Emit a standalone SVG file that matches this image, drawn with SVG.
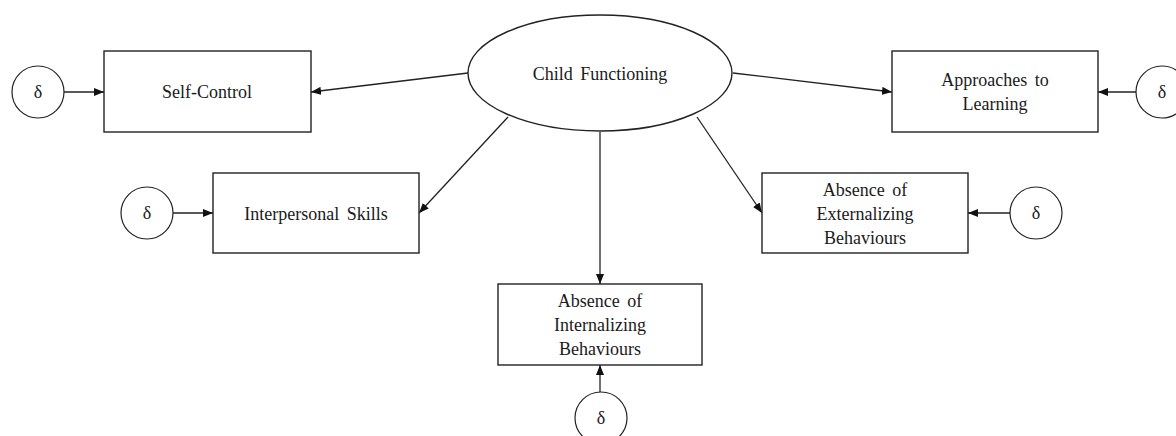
<svg xmlns="http://www.w3.org/2000/svg" width="1176" height="436" viewBox="0 0 1176 436">
  <style>
    .box { fill: #ffffff; stroke: #222222; stroke-width: 1.4; }
    .err { fill: #ffffff; stroke: #222222; stroke-width: 1.2; }
    .lbl { font-family: "Liberation Serif", "Times New Roman", serif; font-size: 18px; fill: #1a1a1a; text-anchor: middle; word-spacing: 3px; }
    .edge { stroke: #222222; stroke-width: 1.3; fill: none; marker-end: url(#arrow); }
  </style>
  <defs>
    <marker id="arrow" viewBox="0 0 10 8" refX="10" refY="4" markerWidth="10" markerHeight="8" markerUnits="userSpaceOnUse" orient="auto">
      <path d="M0,0 L10,4 L0,8 Z" fill="#111111"/>
    </marker>
  </defs>
  <rect width="1176" height="436" fill="#ffffff"/>

  <!-- connectors -->
  <g id="connectors">
    <line class="edge" x1="468" y1="73" x2="311" y2="92"/>
    <line class="edge" x1="733" y1="73" x2="892" y2="92"/>
    <line class="edge" x1="508" y1="117" x2="419" y2="213"/>
    <line class="edge" x1="697" y1="117" x2="762" y2="213"/>
    <line class="edge" x1="600" y1="132" x2="600" y2="284"/>
    <line class="edge" x1="64" y1="92" x2="104" y2="92"/>
    <line class="edge" x1="1136" y1="92" x2="1098" y2="92"/>
    <line class="edge" x1="173" y1="213" x2="213" y2="213"/>
    <line class="edge" x1="1010" y1="213" x2="968" y2="213"/>
    <line class="edge" x1="600" y1="392" x2="600" y2="365"/>
  </g>

  <!-- latent factor -->
  <g id="child-functioning">
    <ellipse class="box" cx="600" cy="73" rx="132" ry="58"/>
    <text class="lbl" x="600" y="80">Child Functioning</text>
  </g>

  <!-- indicators -->
  <g id="self-control">
    <rect class="box" x="104" y="51" width="207" height="81"/>
    <text class="lbl" x="207" y="98">Self-Control</text>
  </g>
  <g id="approaches-to-learning">
    <rect class="box" x="892" y="51" width="206" height="81"/>
    <text class="lbl" x="995" y="86">Approaches to</text>
    <text class="lbl" x="995" y="110">Learning</text>
  </g>
  <g id="interpersonal-skills">
    <rect class="box" x="213" y="173" width="206" height="80"/>
    <text class="lbl" x="316" y="220">Interpersonal Skills</text>
  </g>
  <g id="externalizing">
    <rect class="box" x="762" y="173" width="206" height="80"/>
    <text class="lbl" x="865" y="196">Absence of</text>
    <text class="lbl" x="865" y="220">Externalizing</text>
    <text class="lbl" x="865" y="244">Behaviours</text>
  </g>
  <g id="internalizing">
    <rect class="box" x="498" y="284" width="204" height="81"/>
    <text class="lbl" x="600" y="307">Absence of</text>
    <text class="lbl" x="600" y="331">Internalizing</text>
    <text class="lbl" x="600" y="355">Behaviours</text>
  </g>

  <!-- error terms -->
  <g id="err-self-control">
    <circle class="err" cx="38" cy="92" r="26"/>
    <text class="lbl" x="38" y="98">δ</text>
  </g>
  <g id="err-approaches">
    <circle class="err" cx="1162" cy="92" r="26"/>
    <text class="lbl" x="1162" y="98">δ</text>
  </g>
  <g id="err-interpersonal">
    <circle class="err" cx="147" cy="213" r="26"/>
    <text class="lbl" x="147" y="219">δ</text>
  </g>
  <g id="err-externalizing">
    <circle class="err" cx="1036" cy="213" r="26"/>
    <text class="lbl" x="1036" y="219">δ</text>
  </g>
  <g id="err-internalizing">
    <circle class="err" cx="601" cy="418" r="26"/>
    <text class="lbl" x="601" y="424">δ</text>
  </g>
</svg>
